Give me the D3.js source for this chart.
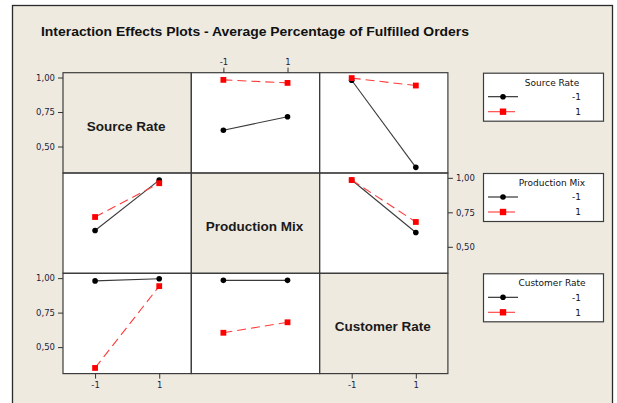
<!DOCTYPE html>
<html>
<head>
<meta charset="utf-8">
<script src="https://cdn.jsdelivr.net/npm/d3@7"></script>
<style>
  html, body { margin: 0; padding: 0; background: #ffffff; }
  svg { display: block; }
</style>
</head>
<body>
<svg id="chart" width="617" height="403"></svg>
<script>
// Factors and their two coded levels
const factorNames = ["Source Rate", "Production Mix", "Customer Rate"];
const levels = [-1, 1];
const levelLabels = ["-1", "1"];
const yTicks = [0.50, 0.75, 1.00];

// Cell means of the fulfilled-orders percentage for each pair of factors.
// Rows: level of the first factor (-1, 1); columns: level of the second factor (-1, 1).
const sourceByProduction   = [[0.618, 0.716], [0.983, 0.961]];
const sourceByCustomer     = [[0.980, 0.349], [0.996, 0.942]];
const productionByCustomer = [[0.984, 0.604], [0.984, 0.680]];

const pairTables = {
  "0-1": sourceByProduction,
  "0-2": sourceByCustomer,
  "1-2": productionByCustomer
};

// mean with factor i at level a and factor j at level b
function cellMean(i, a, j, b) {
  return i < j ? pairTables[i + "-" + j][a][b] : pairTables[j + "-" + i][b][a];
}

const traceColors = ["#000000", "#ff0000"];
const lineColors = ["#3a3a3a", "#ff3b3b"];
const tickColor = "#1c1c3c";

const svg = d3.select("#chart");

// outer frame
svg.append("rect")
  .attr("x", 12.5).attr("y", 5.5)
  .attr("width", 600).attr("height", 420)
  .attr("fill", "#eeeae0")
  .attr("stroke", "#2a2a2a").attr("stroke-width", 1.3);

svg.append("text")
  .attr("x", 41).attr("y", 36)
  .attr("font-family", "Liberation Sans, Arial, sans-serif")
  .attr("font-weight", "bold").attr("font-size", 13)
  .attr("textLength", 428).attr("lengthAdjust", "spacingAndGlyphs")
  .attr("fill", "#111")
  .text("Interaction Effects Plots - Average Percentage of Fulfilled Orders");

// panel grid
const gridLeft = 63, gridTop = 72.7, cw = 128.3, ch = 100.3;
const x = d3.scaleLinear().domain([-2, 2]).range([0, cw]);
const y = d3.scaleLinear().domain([0.308, 1.035]).range([ch, 0]);
const fmtY = d => d.toFixed(2).replace(".", ",");

const n = factorNames.length;

for (let r = 0; r < n; r++) {
  for (let c = 0; c < n; c++) {
    const g = svg.append("g").attr("transform", `translate(${gridLeft + c * cw},${gridTop + r * ch})`);
    g.append("rect")
      .attr("width", cw).attr("height", ch)
      .attr("fill", r === c ? "#eeeae0" : "#ffffff");

    if (r === c) {
      g.append("text")
        .attr("x", cw / 2 - 1).attr("y", ch / 2 + 8)
        .attr("text-anchor", "middle")
        .attr("font-family", "Liberation Sans, Arial, sans-serif")
        .attr("font-weight", "bold").attr("font-size", 13.5)
        .attr("fill", "#1a1a1a")
        .text(factorNames[r]);
      continue;
    }

    // one trace per level of the row factor, plotted against the column factor
    levels.forEach((lv, t) => {
      const pts = levels.map((xv, k) => ({ x: xv, v: cellMean(r, t, c, k) }));
      const line = d3.line().x(d => x(d.x)).y(d => y(d.v));
      g.append("path")
        .attr("d", line(pts))
        .attr("fill", "none")
        .attr("stroke", lineColors[t])
        .attr("stroke-width", 1.1)
        .attr("stroke-dasharray", t === 1 ? "9,5" : null);
      pts.forEach(p => {
        if (t === 0) {
          g.append("circle").attr("cx", x(p.x)).attr("cy", y(p.v)).attr("r", 2.8)
            .attr("fill", traceColors[t]);
        } else {
          g.append("rect").attr("x", x(p.x) - 2.9).attr("y", y(p.v) - 2.9)
            .attr("width", 5.8).attr("height", 5.8).attr("fill", traceColors[t]);
        }
      });
    });
  }
}

// panel borders
for (let r = 0; r < n; r++) {
  for (let c = 0; c < n; c++) {
    svg.append("rect")
      .attr("x", gridLeft + c * cw).attr("y", gridTop + r * ch)
      .attr("width", cw).attr("height", ch)
      .attr("fill", "none").attr("stroke", "#3c3c3c").attr("stroke-width", 1.2);
  }
}

function styleAxis(g) {
  g.select(".domain").remove();
  g.selectAll(".tick line").attr("stroke", "#333").attr("stroke-width", 1);
  g.selectAll(".tick text")
    .attr("fill", tickColor)
    .attr("font-family", "DejaVu Sans, Verdana, sans-serif")
    .attr("font-size", 8.5);
}

// y axes alternate sides: rows 0 and 2 on the left, row 1 on the right
for (let r = 0; r < n; r++) {
  const onLeft = r % 2 === 0;
  const axis = (onLeft ? d3.axisLeft(y) : d3.axisRight(y))
    .tickValues(yTicks).tickFormat(fmtY).tickSize(5).tickPadding(3);
  svg.append("g")
    .attr("transform", `translate(${onLeft ? gridLeft : gridLeft + n * cw},${gridTop + r * ch})`)
    .call(axis).call(styleAxis);
}

// x axes alternate: columns 0 and 2 at the bottom, column 1 at the top
for (let c = 0; c < n; c++) {
  const atBottom = c % 2 === 0;
  const axis = (atBottom ? d3.axisBottom(x) : d3.axisTop(x))
    .tickValues(levels).tickFormat((d, i) => levelLabels[i]).tickSize(5).tickPadding(3);
  svg.append("g")
    .attr("transform", `translate(${gridLeft + c * cw},${atBottom ? gridTop + n * ch : gridTop})`)
    .call(axis).call(styleAxis);
}

// legends, one per trace factor
const lgX = 483, lgW = 120, lgH = 48;
factorNames.forEach((name, f) => {
  const ly = gridTop + f * ch;
  const lg = svg.append("g").attr("transform", `translate(${lgX},${ly})`);
  lg.append("rect").attr("x", 0.5).attr("y", 0.5).attr("width", lgW).attr("height", lgH)
    .attr("fill", "#ffffff").attr("stroke", "#3c3c3c").attr("stroke-width", 1.2);
  lg.append("text")
    .attr("x", 69).attr("y", 13)
    .attr("text-anchor", "middle")
    .attr("font-family", "DejaVu Sans, Verdana, sans-serif").attr("font-size", 9)
    .attr("fill", "#111")
    .text(name);
  levels.forEach((lv, t) => {
    const ry = 24 + t * 15;
    lg.append("line").attr("x1", 5).attr("x2", t === 0 ? 35 : 32).attr("y1", ry).attr("y2", ry)
      .attr("stroke", t === 0 ? "#222" : lineColors[t]).attr("stroke-width", 1.1);
    if (t === 0) {
      lg.append("circle").attr("cx", 20).attr("cy", ry).attr("r", 2.8).attr("fill", traceColors[t]);
    } else {
      lg.append("rect").attr("x", 20 - 3.2).attr("y", ry - 3.2).attr("width", 6.4).attr("height", 6.4)
        .attr("fill", traceColors[t]);
    }
    lg.append("text")
      .attr("x", 98).attr("y", ry + 3.3)
      .attr("text-anchor", "end")
      .attr("font-family", "DejaVu Sans, Verdana, sans-serif").attr("font-size", 9)
      .attr("fill", "#111")
      .text(levelLabels[t]);
  });
});
</script>
</body>
</html>
